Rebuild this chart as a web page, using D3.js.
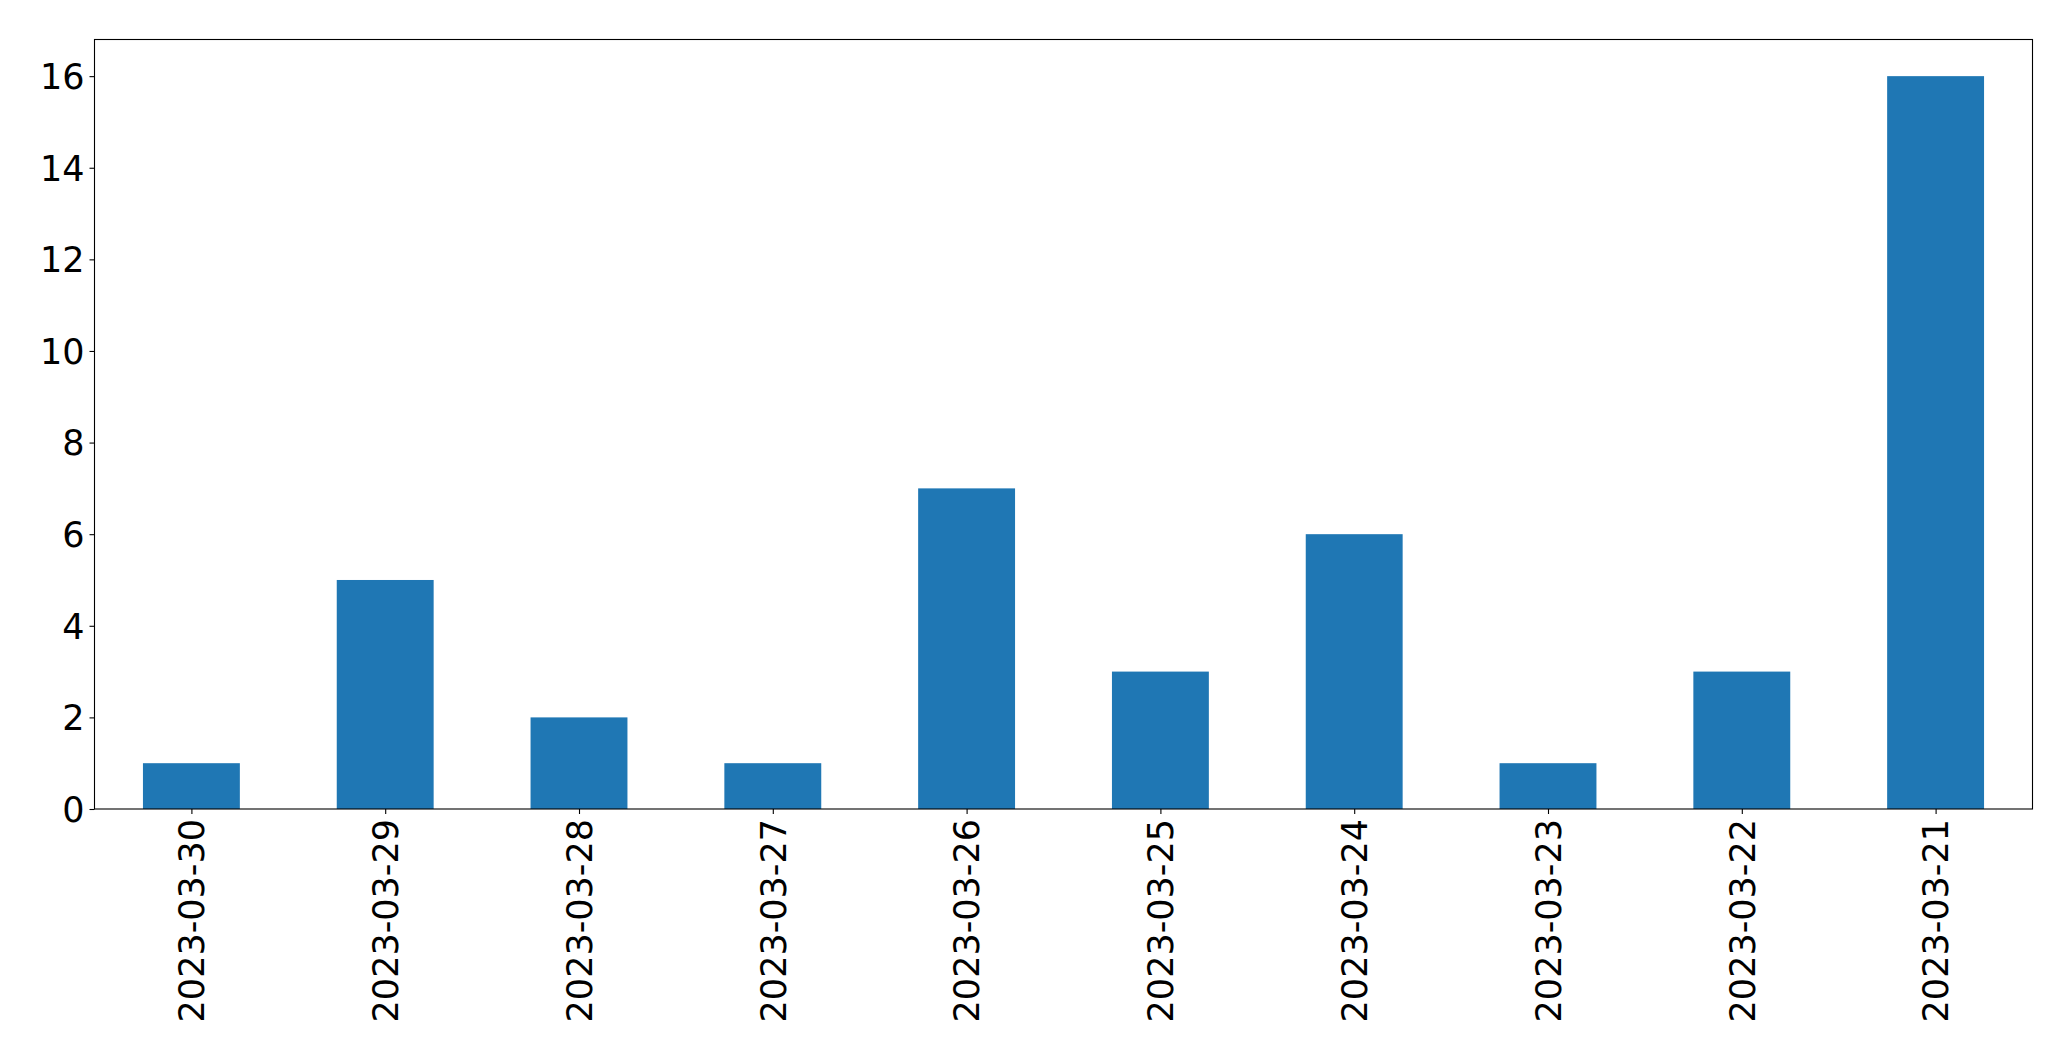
<!DOCTYPE html>
<html>
<head>
<meta charset="utf-8">
<script src="https://cdn.jsdelivr.net/npm/d3@7"></script>
<style>
html,body{margin:0;padding:0;background:#fff;}
svg{display:block;}
text{font-family:"DejaVu Sans",sans-serif;fill:#000;}
</style>
</head>
<body>
<script>
const categories = ["2023-03-30","2023-03-29","2023-03-28","2023-03-27","2023-03-26","2023-03-25","2023-03-24","2023-03-23","2023-03-22","2023-03-21"];
const values = [1,5,2,1,7,3,6,1,3,16];
const yTicks = [0,2,4,6,8,10,12,14,16];

const W = 2071, H = 1061;
const m = {left:94.5, right:W-2032.5, top:39.5, bottom:H-809};
const iw = W - m.left - m.right, ih = H - m.top - m.bottom;
const fontPx = 35;

const svg = d3.select("body").append("svg").attr("width",W).attr("height",H);
const g = svg.append("g").attr("transform",`translate(${m.left},${m.top})`);

const x = d3.scaleLinear().domain([-0.5, categories.length-0.5]).range([0, iw]);
const y = d3.scaleLinear().domain([0, d3.max(values)*1.05]).range([ih, 0]);
const barW = x(0.25) - x(-0.25);

g.selectAll("rect.bar").data(values).enter().append("rect")
  .attr("class","bar")
  .attr("x",(d,i)=>x(i)-barW/2)
  .attr("width",barW)
  .attr("y",d=>y(d))
  .attr("height",d=>y(0)-y(d))
  .attr("fill","#1f77b4");

// frame
g.append("rect").attr("x",0).attr("y",0).attr("width",iw).attr("height",ih)
  .attr("fill","none").attr("stroke","#000").attr("stroke-width",1.1);

// y axis
const yAxis = d3.axisLeft(y).tickValues(yTicks).tickFormat(d3.format("d")).tickSize(5).tickPadding(5);
const ya = g.append("g").call(yAxis);
ya.select(".domain").remove();
ya.selectAll("line").attr("stroke","#000").attr("stroke-width",1.1);
ya.selectAll("text").attr("font-size",fontPx).attr("font-family","DejaVu Sans").attr("dy","0.35em");

// x axis
const xAxis = d3.axisBottom(x).tickValues(d3.range(categories.length)).tickFormat(i=>categories[i]).tickSize(5).tickPadding(5);
const xa = g.append("g").attr("transform",`translate(0,${ih})`).call(xAxis);
xa.select(".domain").remove();
xa.selectAll("line").attr("stroke","#000").attr("stroke-width",1.1);
xa.selectAll("text")
  .attr("font-size",fontPx).attr("font-family","DejaVu Sans")
  .attr("transform","rotate(-90)")
  .attr("text-anchor","end")
  .attr("x",-10).attr("y",0).attr("dy","0.35em");
</script>
</body>
</html>
